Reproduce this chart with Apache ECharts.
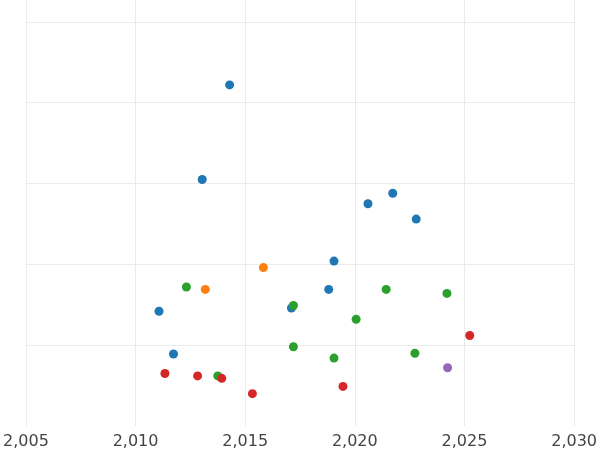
<!DOCTYPE html>
<html>
<head>
<meta charset="utf-8">
<script src="https://cdn.jsdelivr.net/npm/echarts@6/dist/echarts.min.js"></script>
<style>html,body{margin:0;padding:0;background:#fff}#c{width:600px;height:450px}</style>
</head>
<body>
<div id="c"></div>
<script>
const blue = [[2014.29,4.22],[2013.04,3.05],[2011.07,1.42],[2011.73,0.89],[2020.6,2.75],[2021.73,2.88],[2022.8,2.56],[2019.05,2.04],[2018.81,1.69],[2017.11,1.46]]
const orange = [[2013.18,1.69],[2015.83,1.96]]
const green = [[2012.32,1.72],[2017.2,1.49],[2017.2,0.98],[2013.75,0.62],[2020.06,1.32],[2019.05,0.84],[2021.43,1.69],[2022.74,0.90],[2024.2,1.64]]
const red = [[2011.34,0.65],[2012.83,0.62],[2013.93,0.59],[2015.33,0.40],[2019.46,0.49],[2025.24,1.12]]
const purple = [[2024.23,0.72]]

const groups = [
  { data: blue, color: '#1f77b4' },
  { data: orange, color: '#ff7f0e' },
  { data: green, color: '#2ca02c' },
  { data: red, color: '#d62728' },
  { data: purple, color: '#9467bd' },
]

const chart = echarts.init(document.getElementById('c'))
chart.setOption({
  animation: false,
  // grid runs past the window so 2010 lands at x=31 and 2025 at x=535
  grid: { left: -137, right: -103, top: 0, bottom: 23, containLabel: false },
  xAxis: {
    type: 'value', min: 2005, max: 2030, interval: 5,
    axisLine: { show: false }, axisTick: { show: false },
    axisLabel: { color: '#444', fontSize: 16, fontFamily: 'DejaVu Sans', margin: 8 },
    splitLine: { show: true, lineStyle: { color: '#ebebeb' } },
  },
  yAxis: {
    type: 'value', min: 0, max: 5.27, interval: 1,
    axisLine: { show: false }, axisTick: { show: false }, axisLabel: { show: false },
    splitLine: { show: true, lineStyle: { color: ['rgba(0,0,0,0)', '#ebebeb', '#ebebeb', '#ebebeb', '#ebebeb', '#ebebeb'] } },
  },
  series: groups.map((g) => ({
    type: 'scatter', data: g.data, symbolSize: 9,
    itemStyle: { color: g.color, opacity: 1 },
  })),
})
</script>
</body>
</html>
